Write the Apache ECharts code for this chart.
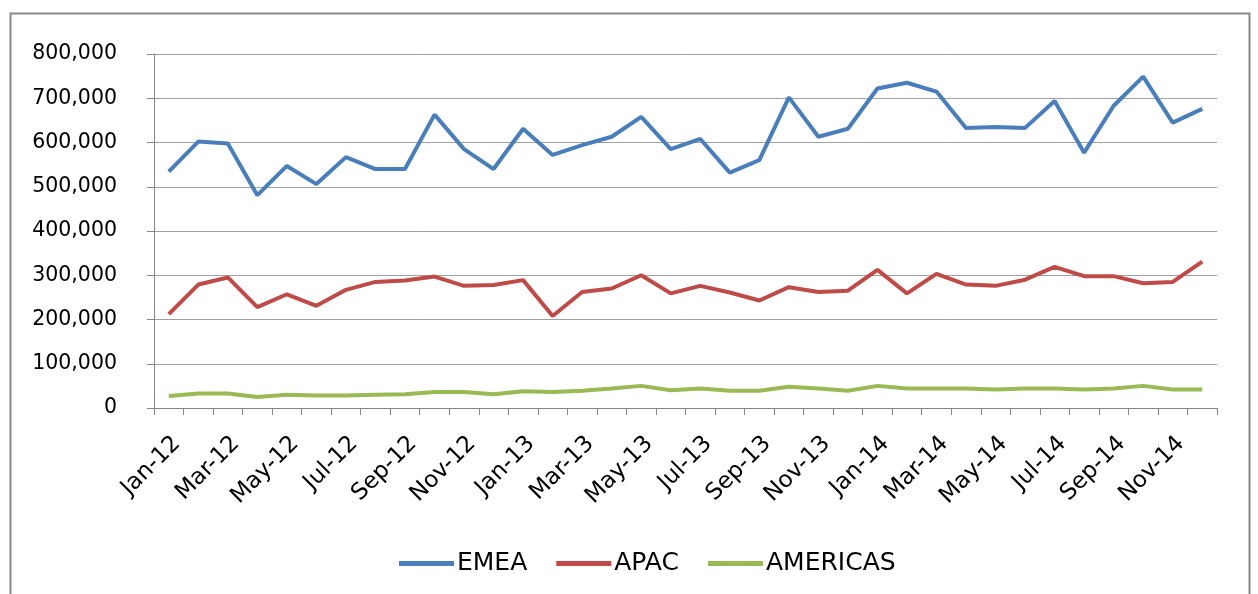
<!DOCTYPE html>
<html>
<head>
<meta charset="utf-8">
<script src="https://cdn.jsdelivr.net/npm/echarts@6/dist/echarts.min.js"></script>
<style>html,body{margin:0;padding:0;background:#fff;}#c{width:1258px;height:594px;}</style>
</head>
<body>
<div id="c"></div>
<script>
const months = ["Jan-12","Feb-12","Mar-12","Apr-12","May-12","Jun-12","Jul-12","Aug-12","Sep-12","Oct-12","Nov-12","Dec-12",
"Jan-13","Feb-13","Mar-13","Apr-13","May-13","Jun-13","Jul-13","Aug-13","Sep-13","Oct-13","Nov-13","Dec-13",
"Jan-14","Feb-14","Mar-14","Apr-14","May-14","Jun-14","Jul-14","Aug-14","Sep-14","Oct-14","Nov-14","Dec-14"];
const emea = [534000,602000,598000,481000,547000,506000,567000,540000,540000,663000,585000,540000,
631000,572000,594000,613000,658000,585000,608000,532000,560000,702000,613000,631000,
722000,735000,715000,633000,635000,633000,694000,577000,683000,749000,645000,676000];
const apac = [212000,279000,295000,228000,257000,231000,267000,285000,288000,297000,276000,278000,
289000,208000,262000,270000,300000,259000,276000,261000,243000,273000,262000,265000,
312000,259000,303000,279000,276000,290000,319000,298000,298000,282000,285000,331000];
const americas = [27000,33000,33000,25000,30000,28000,28000,30000,31000,36000,36000,31000,
38000,36000,39000,44000,50000,40000,44000,39000,39000,48000,44000,39000,
50000,44000,44000,44000,42000,44000,44000,42000,44000,50000,42000,42000];
const seriesNames = ["EMEA","APAC","AMERICAS"];
const colors = ["#4A7EBB","#BE4B48","#98B954"];

const chart = echarts.init(document.getElementById('c'), null, {renderer:'canvas'});
const font = "DejaVu Sans";
const mk = (name, data, color) => ({
  name, type:'line', data, symbol:'none', smooth:false,
  lineStyle:{color, width:4}, itemStyle:{color}
});
chart.setOption({
  animation:false,
  backgroundColor:'#fff',
  graphic:[{type:'rect', shape:{x:10.5,y:13.5,width:1239,height:600}, style:{fill:null, stroke:'#888', lineWidth:2}}],
  grid:{left:154, right:41, top:54, bottom:186, containLabel:false},
  xAxis:{
    type:'category', data:months, boundaryGap:true,
    axisLine:{lineStyle:{color:'#868686', width:1}},
    axisTick:{show:true, interval:0, length:7, lineStyle:{color:'#868686'}},
    axisLabel:{interval:1, rotate:45, color:'#000', fontFamily:font, fontSize:23, margin:24, verticalAlign:'top'},
    splitLine:{show:false}
  },
  yAxis:{
    type:'value', min:0, max:800000, interval:100000,
    axisLine:{show:true, lineStyle:{color:'#868686', width:1}},
    axisTick:{show:true, length:7, lineStyle:{color:'#868686'}},
    axisLabel:{color:'#000', fontFamily:font, fontSize:20.5, margin:37,
      formatter:v => v.toLocaleString('en-US')},
    splitLine:{lineStyle:{color:'#a0a0a0', width:1}}
  },
  legend:{
    data:seriesNames, top:546, left:394, itemGap:29,
    icon:'rect', itemWidth:55, itemHeight:5,
    textStyle:{color:'#000', fontFamily:font, fontSize:25, padding:[0,0,0,-2]}
  },
  series:[mk(seriesNames[0], emea, colors[0]), mk(seriesNames[1], apac, colors[1]), mk(seriesNames[2], americas, colors[2])]
});
</script>
</body>
</html>
